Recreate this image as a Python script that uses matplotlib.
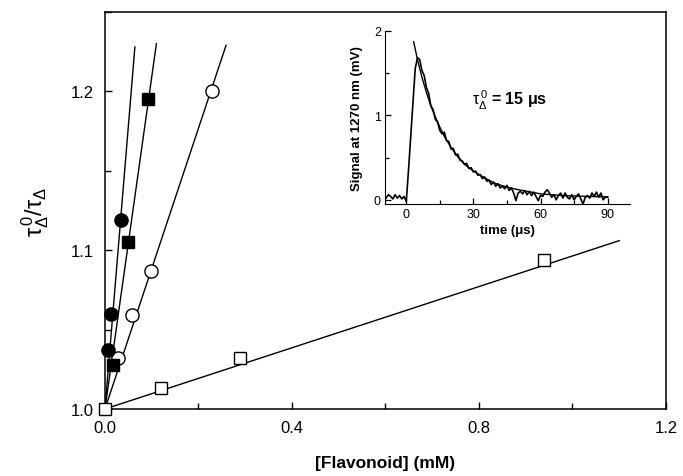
"""Stern-Volmer plot of singlet oxygen lifetime quenching by flavonoids, with decay trace inset."""

import matplotlib
matplotlib.use("Agg")
import matplotlib.pyplot as plt
from matplotlib.ticker import MultipleLocator

plt.rcParams["font.family"] = ["Liberation Sans", "DejaVu Sans"]
plt.rcParams["mathtext.fontset"] = "custom"
plt.rcParams["mathtext.rm"] = "Liberation Sans"
plt.rcParams["mathtext.it"] = "Liberation Sans:italic"
plt.rcParams["mathtext.bf"] = "Liberation Sans:bold"

# main panel: [flavonoid] (mM) vs tau0/tau
filled_circle_x = [0.007, 0.012, 0.034]
filled_circle_y = [1.037, 1.060, 1.119]
filled_square_x = [0.018, 0.050, 0.093]
filled_square_y = [1.028, 1.105, 1.195]
open_circle_x = [0.028, 0.058, 0.098, 0.228]
open_circle_y = [1.032, 1.059, 1.087, 1.200]
open_square_x = [0.0, 0.119, 0.289, 0.939]
open_square_y = [1.0, 1.013, 1.032, 1.094]

# fitted straight lines, all from (0, 1.0) to these end points
fit_x_end = [0.064, 0.110, 0.259, 1.100]
fit_y_end = [1.228, 1.230, 1.229, 1.106]

# inset: emission trace at 1270 nm (mV) vs time (us)
trace_t = list(range(-9, 91))
trace_mv = [0.02, 0.06, 0.04, 0.01, 0.06, 0.02, 0.05, 0.01, 0.04, -0.02,
            0.35, 0.75, 1.15, 1.55, 1.68, 1.66, 1.53, 1.47, 1.33,
            1.26, 1.11, 1.07, 0.95, 0.92, 0.82, 0.78, 0.80, 0.70, 0.69,
            0.60, 0.61, 0.53, 0.54, 0.47, 0.46, 0.42, 0.43, 0.37, 0.38,
            0.33, 0.34, 0.29, 0.30, 0.25, 0.27, 0.22, 0.23, 0.18, 0.21,
            0.16, 0.19, 0.14, 0.16, 0.13, 0.17, 0.11, 0.14, 0.08, -0.01,
            0.08, 0.10, 0.07, 0.11, 0.06, 0.10, 0.05, 0.09, 0.04, -0.01,
            0.05, 0.04, 0.09, 0.12, 0.08, 0.03, 0.06, 0.00, 0.05, 0.08,
            0.02, 0.08, 0.03, 0.01, 0.06, 0.00, 0.04, 0.07, 0.01, -0.05,
            0.03, 0.05, 0.02, 0.08, 0.04, 0.09, 0.03, 0.08, 0.00, 0.03, 0.03]
fit_t = [3.3, 5, 7, 9, 11, 13, 15, 17, 20, 23, 26, 30, 35, 40, 45, 50, 60, 70, 80, 90]
fit_mv = [1.87, 1.66, 1.45, 1.27, 1.11, 0.98, 0.86, 0.75, 0.62, 0.51, 0.42,
          0.34, 0.26, 0.19, 0.15, 0.12, 0.07, 0.05, 0.04, 0.035]

fig = plt.figure(figsize=(6.83, 4.77), dpi=100)
ax = fig.add_axes([0.1537, 0.1405, 0.8214, 0.8323])

for xe, ye in zip(fit_x_end, fit_y_end):
    ax.plot([0.0, xe], [1.0, ye], color="black", lw=1.0, zorder=2)

mk = dict(linestyle="none", color="black", mec="black", mew=1.0, clip_on=False, zorder=4)
ax.plot(open_square_x, open_square_y, marker="s", ms=8.5, mfc="white", **mk)
ax.plot(open_circle_x, open_circle_y, marker="o", ms=9.5, mfc="white", **mk)
ax.plot(filled_square_x, filled_square_y, marker="s", ms=8.5, mfc="black", **mk)
ax.plot(filled_circle_x, filled_circle_y, marker="o", ms=9.5, mfc="black", **mk)

ax.set_xlim(0.0, 1.2)
ax.set_ylim(1.0, 1.25)
ax.xaxis.set_major_locator(MultipleLocator(0.4))
ax.xaxis.set_minor_locator(MultipleLocator(0.2))
ax.yaxis.set_major_locator(MultipleLocator(0.1))
ax.yaxis.set_minor_locator(MultipleLocator(0.05))
ax.xaxis.set_major_formatter(plt.FormatStrFormatter("%.1f"))
ax.yaxis.set_major_formatter(plt.FormatStrFormatter("%.1f"))
ax.tick_params(which="both", direction="in", labelsize=12, width=1.0)
ax.tick_params(which="major", length=5, pad=8)
ax.tick_params(which="minor", length=4)
for s in ax.spines.values():
    s.set_linewidth(1.1)
ax.set_xlabel("[Flavonoid] (mM)", fontsize=12.5, fontweight="bold", labelpad=14)
ax.set_ylabel(r"$\mathrm{τ}_\Delta^{\,0}/\mathrm{τ}_\Delta$", fontsize=17, labelpad=14)

# inset
ins = fig.add_axes([0.5637, 0.5702, 0.3587, 0.3633])
ins.plot(trace_t, trace_mv, color="black", lw=1.2)
ins.plot(fit_t, fit_mv, color="black", lw=1.0)
ins.set_xlim(-9.5, 100)
ins.set_ylim(-0.05, 2.0)
ins.spines["top"].set_visible(False)
ins.spines["right"].set_visible(False)
ins.xaxis.set_major_locator(MultipleLocator(30))
ins.xaxis.set_minor_locator(MultipleLocator(15))
ins.yaxis.set_major_locator(MultipleLocator(1))
ins.yaxis.set_minor_locator(MultipleLocator(0.5))
ins.tick_params(which="both", direction="in", labelsize=9, width=0.9, pad=3)
ins.tick_params(which="major", length=4)
ins.tick_params(which="minor", length=3)
ins.set_xlabel("time (μs)", fontsize=9.5, fontweight="bold", labelpad=3)
ins.set_ylabel("Signal at 1270 nm (mV)", fontsize=9.5, fontweight="bold", labelpad=8)
ins.text(29.5, 1.19, r"$\mathrm{τ}_\Delta^{\,0}$ = 15 μs", fontsize=11.5,
         fontweight="bold", va="center", ha="left")

fig.savefig("out.png", dpi=100)
